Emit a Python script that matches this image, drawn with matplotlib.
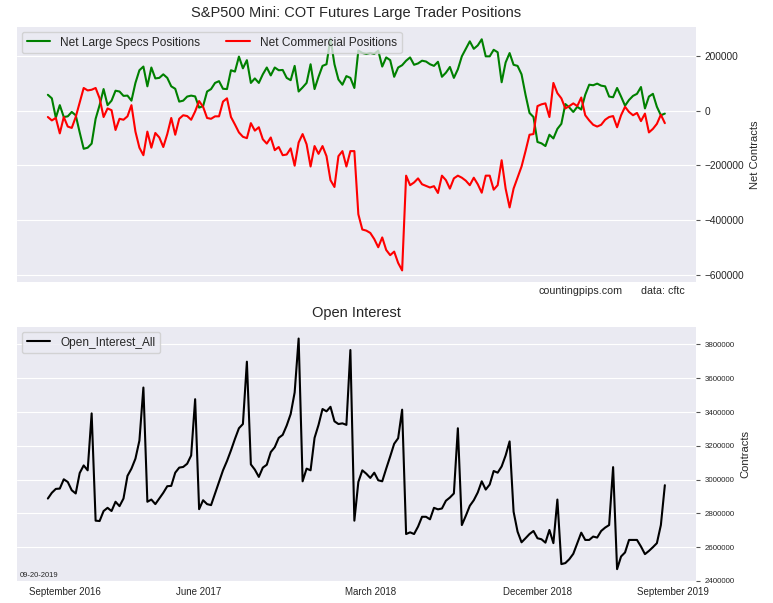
import matplotlib
matplotlib.use('Agg')
import matplotlib.pyplot as plt
import matplotlib.ticker as mticker
import numpy as np

# Weekly COT data, Sept 2016 - Sept 2019
specs = [59000, 46000, -25000, 21000, -22500, -20000, -4000, -16000, -79000, -139000,
         -135000, -120000, -29000, 21000, 80000, 21000, 37500, 74000, 71000, 55000,
         56000, 37500, 102500, 149000, 162500, 90000, 159000, 119000, 121000, 134000,
         121000, 90000, 81000, 34000, 37500, 52500, 56000, 53000, 12000, 17500,
         71000, 80000, 102500, 109000, 81000, 80000, 149000, 144000, 199000, 156000,
         186000, 102500, 119000, 102500, 134000, 159000, 130000, 159000, 149000, 150000,
         121000, 112500, 165000, 71000, 86000, 102500, 171000, 80000, 125000, 165000,
         171000, 265000, 171000, 115000, 96000, 127500, 121000, 84000, 221000, 212500,
         209000, 212500, 209000, 221000, 162500, 196000, 186000, 125000, 159000, 167500,
         184000, 196000, 169000, 174000, 184000, 181000, 171000, 165000, 180000, 125000,
         140000, 161000, 121000, 152500, 200000, 227500, 255000, 227500, 240000, 262500,
         200000, 200000, 224000, 215000, 105000, 177500, 212000, 169000, 165000, 134000,
         59000, -7500, -22500, -114000, -119000, -129000, -87500, -101000, -66000, -47500,
         25000, 12500, -4000, 15000, 5000, 59000, 96000, 94000, 100000, 92500,
         90000, 52500, 50000, 84000, 52500, 19000, 40000, 55000, 62500, 87500,
         9000, 52500, 62500, 15000, -16000, -10000]

commercial = [-22500, -35000, -26000, -82500, -22500, -57500, -62500, -22500, 30000, 84000,
              75000, 77500, 84000, 46000, -22500, 9000, 2500, -70000, -29000, -32500,
              -20000, 21000, -76000, -135000, -162500, -76000, -135000, -81000, -97500, -132500,
              -85000, -26000, -87500, -29000, -16000, -19000, -32500, -2000, 36000, 15000,
              -26000, -29000, -20000, -20000, 34000, 46000, -22500, -50000, -79000, -95000,
              -100000, -45000, -72500, -60000, -104000, -120000, -97500, -144000, -132500, -162500,
              -160000, -137500, -201000, -116000, -85000, -122500, -204000, -129000, -157500, -129000,
              -166000, -254000, -279000, -166000, -147500, -204000, -147500, -147500, -379000, -435000,
              -439000, -447500, -470000, -500000, -464000, -510000, -529000, -516000, -557500, -585000,
              -237500, -272500, -262500, -247500, -269000, -275000, -281000, -276000, -301000, -237500,
              -254000, -285000, -247500, -237500, -245000, -256000, -272500, -245000, -269000, -300000,
              -237500, -237500, -289000, -272500, -181000, -285000, -354000, -285000, -245000, -204000,
              -147500, -87500, -85000, 17500, 24000, 27500, -22500, 102500, 65000, 46000,
              9000, 17500, 27500, 17500, 49000, -16000, -35000, -51000, -57500, -51000,
              -32500, -22500, -19000, -60000, -16000, 15000, -4000, -16000, -7500, -37500,
              -10000, -79000, -66000, -47500, -14000, -45000]

open_interest = [2888000, 2922000, 2945000, 2947000, 3002000, 2986000, 2937000, 2918000, 3039000, 3084000,
                 3055000, 3392000, 2757000, 2755000, 2814000, 2833000, 2814000, 2869000, 2843000, 2888000,
                 3022000, 3065000, 3124000, 3231000, 3545000, 2869000, 2882000, 2855000, 2888000, 2922000,
                 2961000, 2963000, 3041000, 3071000, 3075000, 3094000, 3143000, 3476000, 2825000, 2878000,
                 2855000, 2849000, 2918000, 2986000, 3055000, 3110000, 3173000, 3241000, 3304000, 3329000,
                 3698000, 3090000, 3059000, 3016000, 3071000, 3088000, 3163000, 3192000, 3247000, 3265000,
                 3320000, 3388000, 3516000, 3835000, 2990000, 3065000, 3055000, 3247000, 3324000, 3418000,
                 3404000, 3431000, 3345000, 3329000, 3333000, 3324000, 3767000, 2757000, 2986000, 3055000,
                 3035000, 3010000, 3041000, 2996000, 2990000, 3065000, 3137000, 3212000, 3245000, 3414000,
                 2678000, 2688000, 2678000, 2722000, 2780000, 2780000, 2765000, 2833000, 2824000, 2829000,
                 2875000, 2894000, 2918000, 3304000, 2731000, 2786000, 2845000, 2878000, 2924000, 2990000,
                 2941000, 2971000, 3051000, 3041000, 3078000, 3143000, 3226000, 2810000, 2692000, 2629000,
                 2653000, 2678000, 2696000, 2653000, 2647000, 2627000, 2702000, 2624000, 2882000, 2500000,
                 2506000, 2529000, 2561000, 2624000, 2686000, 2643000, 2643000, 2663000, 2657000, 2696000,
                 2716000, 2731000, 3074000, 2470000, 2545000, 2569000, 2643000, 2643000, 2643000, 2604000,
                 2559000, 2578000, 2600000, 2624000, 2731000, 2967000]

tick_labels = ['September 2016', 'June 2017', 'March 2018', 'December 2018', 'September 2019']
tick_pos = [4.3, 38, 81, 123, 157]

weeks = np.arange(len(open_interest))

plt.style.use('seaborn-v0_8-darkgrid')
plt.rcParams['font.family'] = ['Liberation Sans', 'DejaVu Sans']
plt.rcParams['axes.facecolor'] = '#EAEAF2'

fig = plt.figure(figsize=(7.73, 6.03), dpi=100)
ax1 = fig.add_axes([0.022, 0.5323, 0.878, 0.4229])
ax2 = fig.add_axes([0.022, 0.0365, 0.878, 0.4212])

## Top: net positions
ax1.plot(weeks, specs, color='green', lw=1.5, label='Net Large Specs Positions')
ax1.plot(weeks, commercial, color='red', lw=1.5, label='Net Commercial Positions')
ax1.set_title('S&P500 Mini: COT Futures Large Trader Positions', fontsize=10.5, color='#262626', pad=7)
ax1.yaxis.tick_right()
ax1.yaxis.set_label_position('right')
ax1.set_ylabel('Net Contracts', fontsize=8, color='#262626')
ax1.set_yticks([200000, 0, -200000, -400000, -600000])
ax1.tick_params(axis='y', labelsize=7.3, length=3, width=0.8, color='#555555', labelcolor='#262626', right=True)
ax1.set_xticks([])
ax1.grid(axis='x', visible=False)
ax1.legend(loc='upper left', ncol=2, fontsize=8.6, frameon=True, facecolor='#EAEAF2',
           edgecolor='#CCCCCC', framealpha=0.8, borderaxespad=0.4, columnspacing=2.2)

fig.text(0.751, 0.517, 'countingpips.com', fontsize=7.7, ha='center', va='center', color='#262626')
fig.text(0.857, 0.517, 'data: cftc', fontsize=7.7, ha='center', va='center', color='#262626')

## Bottom: open interest
ax2.plot(weeks, open_interest, color='black', lw=1.5, label='Open_Interest_All')
ax2.set_title('Open Interest', fontsize=10.5, color='#262626', pad=7)
ax2.yaxis.tick_right()
ax2.yaxis.set_label_position('right')
ax2.set_ylabel('Contracts', fontsize=8, color='#262626')
ax2.set_yticks(np.arange(2400000, 3800001, 200000))
ax2.yaxis.set_major_formatter(mticker.FormatStrFormatter('%d'))
ax2.tick_params(axis='y', labelsize=5.7, length=3, width=0.8, color='#555555', labelcolor='#262626', right=True)
ax2.set_xticks(tick_pos)
ax2.set_xticklabels(tick_labels)
ax2.tick_params(axis='x', labelsize=7, length=0, labelcolor='#262626', pad=4)
ax2.grid(axis='x', visible=False)
ax2.legend(loc='upper left', fontsize=8.6, frameon=True, facecolor='#EAEAF2',
           edgecolor='#CCCCCC', framealpha=0.8, borderaxespad=0.4)
ax2.text(0.004, 0.015, '09-20-2019', transform=ax2.transAxes, fontsize=5.5, color='#262626')

fig.savefig('out.png', dpi=100)
